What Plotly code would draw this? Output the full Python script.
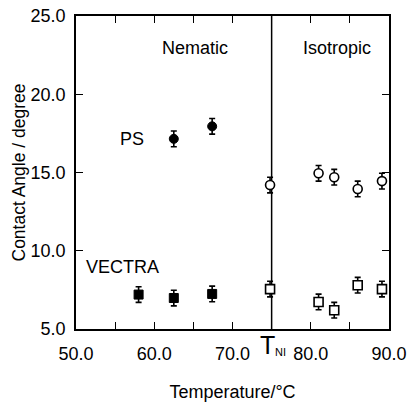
import plotly.graph_objects as go

# Data
ps_nem_T = [62.5, 67.4]
ps_nem_angle = [17.15, 17.95]
ps_nem_err = [0.5, 0.5]

ps_iso_T = [74.8, 81.0, 83.0, 86.0, 89.1]
ps_iso_angle = [14.2, 14.95, 14.7, 13.95, 14.45]
ps_iso_err = [0.5, 0.5, 0.5, 0.5, 0.5]

vec_nem_T = [58.0, 62.5, 67.4]
vec_nem_angle = [7.2, 6.98, 7.24]
vec_nem_err = [0.5, 0.5, 0.5]

vec_iso_T = [74.8, 81.0, 83.0, 86.0, 89.1]
vec_iso_angle = [7.55, 6.73, 6.2, 7.8, 7.55]
vec_iso_err = [0.5, 0.5, 0.5, 0.5, 0.5]

T_NI = 75.0

x_tickvals = [50, 55, 60, 65, 70, 80, 85, 90]
x_ticktext = ["50.0", "", "60.0", "", "70.0", "80.0", "", "90.0"]
y_tickvals = [5, 10, 15, 20, 25]
y_ticktext = ["5.0", "10.0", "15.0", "20.0", "25.0"]

FONT = "Liberation Sans, Arial, sans-serif"


def err(arr):
    return dict(type="data", array=arr, visible=True, thickness=1.6, width=3, color="black")


fig = go.Figure()
fig.add_trace(go.Scatter(x=ps_nem_T, y=ps_nem_angle, mode="markers", error_y=err(ps_nem_err),
                         marker=dict(symbol="circle", size=9, color="black", line=dict(color="black", width=1))))
fig.add_trace(go.Scatter(x=ps_iso_T, y=ps_iso_angle, mode="markers", error_y=err(ps_iso_err),
                         marker=dict(symbol="circle", size=9, color="white", line=dict(color="black", width=1.6))))
fig.add_trace(go.Scatter(x=vec_nem_T, y=vec_nem_angle, mode="markers", error_y=err(vec_nem_err),
                         marker=dict(symbol="square", size=9, color="black", line=dict(color="black", width=1))))
fig.add_trace(go.Scatter(x=vec_iso_T, y=vec_iso_angle, mode="markers", error_y=err(vec_iso_err),
                         marker=dict(symbol="square", size=9, color="white", line=dict(color="black", width=1.6))))

fig.add_shape(type="line", xref="x", yref="y", x0=T_NI, x1=T_NI, y0=5, y1=25,
              line=dict(color="black", width=1.5), layer="below")

annots = [
    dict(x=65.2, y=22.95, text="Nematic"),
    dict(x=83.4, y=22.95, text="Isotropic"),
    dict(x=57.1, y=17.14, text="PS"),
    dict(x=56.0, y=8.98, text="VECTRA"),
]
for a in annots:
    fig.add_annotation(xref="x", yref="y", showarrow=False, xanchor="center", yanchor="middle",
                       font=dict(family=FONT, color="black", size=18),
                       x=a["x"], y=a["y"], text=a["text"])

# T_NI label under the axis
fig.add_annotation(xref="x", yref="paper", x=T_NI, y=0, xanchor="center", yanchor="top",
                   xshift=-4, yshift=0, showarrow=False, text="T",
                   font=dict(family=FONT, size=25, color="black"))
fig.add_annotation(xref="x", yref="paper", x=T_NI, y=0, xanchor="left", yanchor="top",
                   xshift=1, yshift=-15, showarrow=False, text="NI",
                   font=dict(family=FONT, size=11, color="black"))

fig.update_layout(
    width=410, height=405,
    margin=dict(l=76, r=21, t=16, b=76, autoexpand=False),
    paper_bgcolor="white", plot_bgcolor="white",
    showlegend=False,
    font=dict(family=FONT, color="black", size=18),
)
fig.update_xaxes(range=[50, 90], tickvals=x_tickvals, ticktext=x_ticktext, automargin=False,
                 ticks="inside", ticklen=7, tickwidth=1.2, tickcolor="black",
                 showline=True, linecolor="black", linewidth=1.5, mirror="ticks",
                 showgrid=False, zeroline=False, ticklabelstandoff=8,
                 tickfont=dict(family=FONT, size=18, color="black"),
                 title=dict(text="Temperature/°C", font=dict(family=FONT, size=18, color="black"), standoff=22))
fig.update_yaxes(range=[5, 25], tickvals=y_tickvals, ticktext=y_ticktext, automargin=False,
                 ticks="inside", ticklen=7, tickwidth=1.2, tickcolor="black",
                 showline=True, linecolor="black", linewidth=1.5, mirror="ticks",
                 showgrid=False, zeroline=False, ticklabelstandoff=5,
                 tickfont=dict(family=FONT, size=18, color="black"),
                 title=dict(text="Contact Angle / degree", font=dict(family=FONT, size=17.5, color="black"), standoff=0))

fig.write_html("out.html", config={"displayModeBar": False},
               post_script="document.body.style.margin='0';")
